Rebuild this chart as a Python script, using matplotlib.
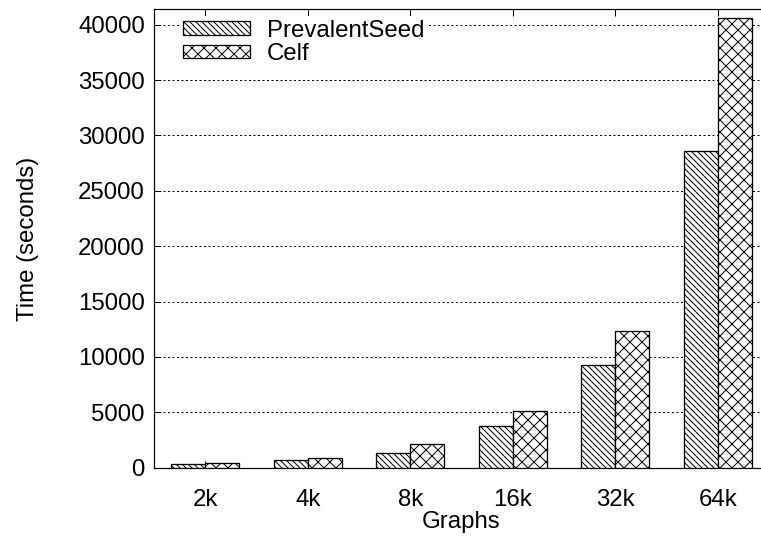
import matplotlib
matplotlib.use("Agg")
import matplotlib.pyplot as plt
import numpy as np

categories = ["2k", "4k", "8k", "16k", "32k", "64k"]
prevalent_seed = [330, 730, 1330, 3800, 9300, 28600]
celf = [390, 880, 2100, 5150, 12300, 40600]
y_ticks = [0, 5000, 10000, 15000, 20000, 25000, 30000, 35000, 40000]

plt.rcParams['font.family'] = ['Liberation Sans', 'DejaVu Sans']
plt.rcParams['hatch.linewidth'] = 1.0
plt.rcParams['hatch.color'] = 'black'

DPI = 72
fig = plt.figure(figsize=(761 / DPI, 546 / DPI), dpi=DPI)
W, H = 761, 546
left_px, right_px, top_px, bot_px = 154, 769, 9.3, 467.6
ax = fig.add_axes([left_px / W, 1 - bot_px / H, (right_px - left_px) / W, (bot_px - top_px) / H])

x = np.arange(len(categories))
bw = 1 / 3
ax.bar(x - bw / 2, prevalent_seed, bw, facecolor='white', edgecolor='black',
       linewidth=1.3, hatch='\\\\\\\\', label='PrevalentSeed', zorder=3)
ax.bar(x + bw / 2, celf, bw, facecolor='white', edgecolor='black',
       linewidth=1.3, hatch='xx', label='Celf', zorder=3)

ax.set_xlim(-0.5, 5.5)
ax.set_ylim(0, 41400)
ax.set_xticks(x)
ax.set_xticklabels(categories)
ax.set_yticks(y_ticks)
ax.set_yticklabels([str(v) for v in y_ticks])

for yv in y_ticks[1:]:
    ax.axhline(yv, color='black', linewidth=1.0, linestyle=(0, (2, 2.5)), zorder=1)

ax.tick_params(axis='both', direction='in', length=7, width=1, labelsize=24,
               top=True, right=True, pad=9)
ax.tick_params(axis='x', pad=21)
for s in ax.spines.values():
    s.set_linewidth(1.2)

ax.set_xlabel('Graphs', fontsize=24, labelpad=0)
ax.set_ylabel('Time (seconds)', fontsize=24, labelpad=39)

leg = ax.legend(loc='upper left', bbox_to_anchor=(0.0413, 0.985), borderaxespad=0,
                borderpad=0.15, fontsize=24, frameon=True, fancybox=False,
                facecolor='white', edgecolor='none', framealpha=1,
                handlelength=2.8, handleheight=0.5, handletextpad=0.7,
                labelspacing=0.05)
leg.set_zorder(5)

fig.savefig('out.png', dpi=DPI)
